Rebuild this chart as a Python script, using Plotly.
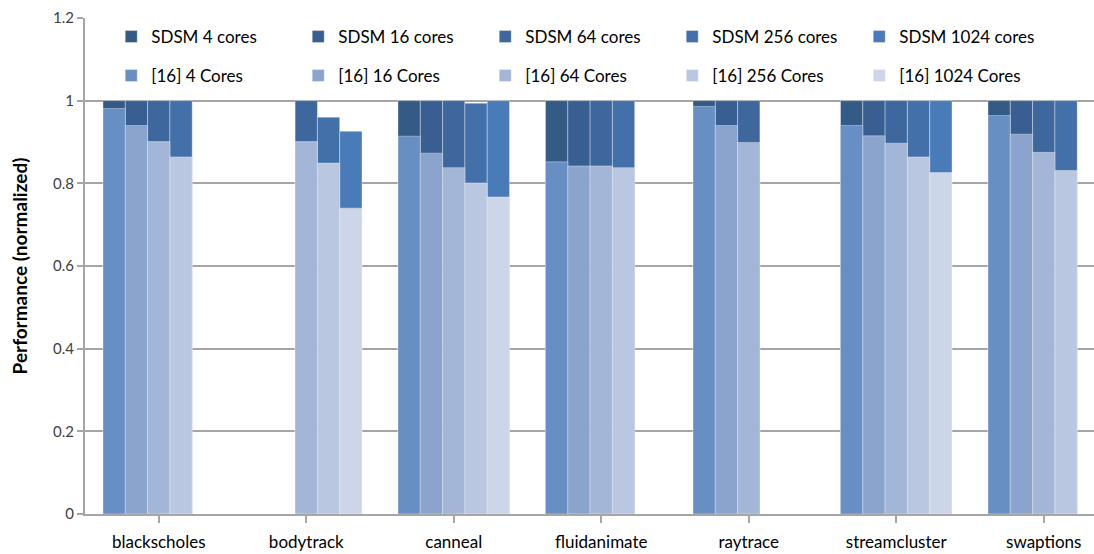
import plotly.graph_objects as go

benchmarks = ["blackscholes", "bodytrack", "canneal", "fluidanimate",
              "raytrace", "streamcluster", "swaptions"]
cores = ["4", "16", "64", "256", "1024"]

# SDSM results (normalized), None = no bar
sdsm = {
    "4":    [1.0, None, 1.0, 1.0, 1.0, 1.0, 1.0],
    "16":   [1.0, None, 1.0, 1.0, 1.0, 1.0, 1.0],
    "64":   [1.0, 1.0, 1.0, 1.0, 1.0, 1.0, 1.0],
    "256":  [1.0, 0.960, 0.994, 1.0, None, 1.0, 1.0],
    "1024": [None, 0.926, 1.0, None, None, 1.0, None],
}

# [16] results (normalized)
ref16 = {
    "4":    [0.981, None, 0.914, 0.852, 0.986, 0.940, 0.964],
    "16":   [0.940, None, 0.873, 0.842, 0.940, 0.915, 0.919],
    "64":   [0.901, 0.901, 0.838, 0.842, 0.899, 0.897, 0.875],
    "256":  [0.864, 0.849, 0.801, 0.838, None, 0.864, 0.831],
    "1024": [None, 0.740, 0.767, None, None, 0.826, None],
}

sdsm_colors = ["#345a86", "#395f92", "#3e679e", "#4470aa", "#4a7bb9"]
ref_colors = ["#678fc4", "#8ba4cd", "#a3b6d7", "#bac7e1", "#cdd6e8"]

font = "Lato"
x = list(range(len(benchmarks)))

fig = go.Figure()

# SDSM bars go behind
for c, col in zip(cores, sdsm_colors):
    fig.add_trace(go.Bar(
        x=x, y=sdsm[c], name=f"SDSM {c} cores",
        offsetgroup=c, marker_color=col,
        marker_line=dict(color="rgba(255,255,255,0.35)", width=1),
        legend="legend",
    ))

# [16] bars drawn on top in the same slots
for c, col in zip(cores, ref_colors):
    fig.add_trace(go.Bar(
        x=x, y=ref16[c], name=f"[16] {c} Cores",
        offsetgroup=c, marker_color=col,
        marker_line=dict(color="rgba(255,255,255,0.35)", width=1),
        legend="legend2",
    ))

legend_common = dict(
    orientation="h",
    xref="paper", yref="paper",
    xanchor="left", yanchor="middle",
    bgcolor="rgba(0,0,0,0)",
    font=dict(family=font, size=17, color="#000000"),
    entrywidth=142, entrywidthmode="pixels",
    itemclick=False,
)

fig.update_layout(
    width=1094, height=554,
    barmode="group",
    bargap=0.244,
    bargroupgap=0,
    plot_bgcolor="white",
    paper_bgcolor="white",
    margin=dict(t=18, r=0, b=40, l=85, autoexpand=False),
    font=dict(family=font, color="#000000"),
    legend=dict(x=0.026, y=1 - 19 / 496, **legend_common),
    legend2=dict(x=0.026, y=1 - 58 / 496, **legend_common),
)

fig.update_xaxes(
    tickmode="array", tickvals=x, ticktext=benchmarks,
    range=[-0.5, -0.5 + 1009 / 147.5],
    tickfont=dict(family=font, size=17, color="#000000"),
    showgrid=False,
    showline=True, linecolor="#a6a6a6", linewidth=2,
    ticks="outside", ticklen=7, tickcolor="#a6a6a6", tickwidth=1.5,
    tickson="boundaries",
    ticklabelstandoff=5,
)

fig.update_yaxes(
    range=[0, 1.2], dtick=0.2,
    tickfont=dict(family=font, size=15, color="#404040"),
    showgrid=True, gridcolor="#a6a6a6", gridwidth=1.5,
    zeroline=False,
    showline=True, linecolor="#a6a6a6", linewidth=2,
    ticks="outside", ticklen=6, tickcolor="#a6a6a6", tickwidth=1.5,
    title=dict(text="<b>Performance (normalized)</b>",
               font=dict(family=font, size=19, color="#000000"),
               standoff=20),
)

# drop the default page margin so the figure sits at the window's corner
fig.write_html(
    "out.html",
    config={"displayModeBar": False},
    post_script="document.body.style.margin='0';document.body.style.overflow='hidden';",
)
